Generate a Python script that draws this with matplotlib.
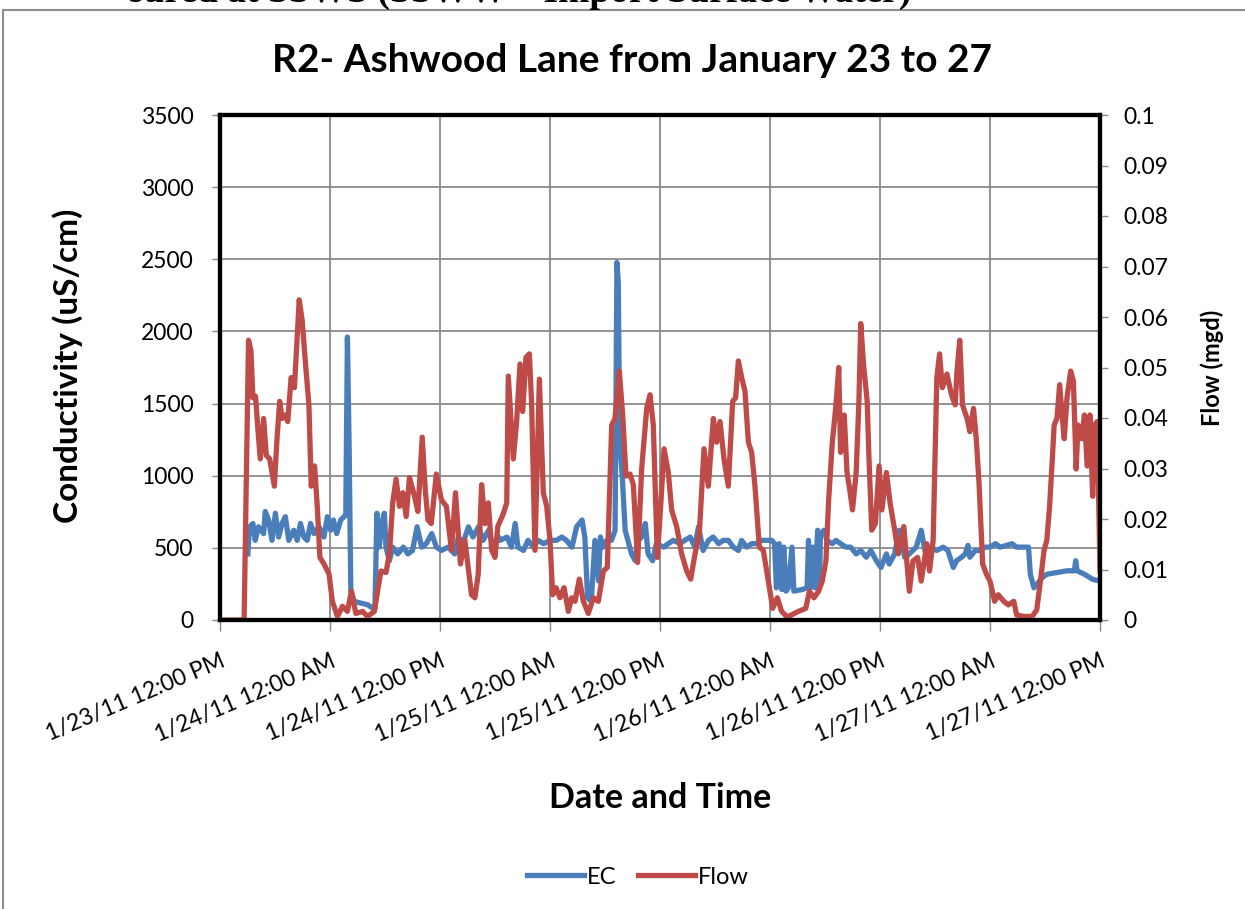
import matplotlib.pyplot as plt
from matplotlib.patches import Rectangle

# hours since 1/23/11 12:00 PM
tick_hours = [0, 12, 24, 36, 48, 60, 72, 84, 96]
tick_labels = ['1/23/11 12:00 PM', '1/24/11 12:00 AM', '1/24/11 12:00 PM',
               '1/25/11 12:00 AM', '1/25/11 12:00 PM', '1/26/11 12:00 AM',
               '1/26/11 12:00 PM', '1/27/11 12:00 AM', '1/27/11 12:00 PM']

ec_t = [3.04, 3.22, 3.59, 3.84, 4.2, 4.76, 4.94, 5.3, 5.67, 6.04, 6.4, 6.77, 7.13, 7.5,
        8.05, 8.42, 8.78, 9.15, 9.51, 9.88, 10.25, 10.79, 11.34, 11.71, 12.07, 12.37,
        12.73, 13.17, 13.72, 13.9, 14.09, 14.27, 14.64, 15.37, 16.1, 16.65, 16.9, 17.12,
        17.38, 17.64, 17.93, 18.11, 18.48, 18.84, 19.39, 20.0, 20.5, 21.0, 21.5, 22.0,
        22.5, 23.1, 23.6, 24.15, 24.9, 25.6, 26.0, 26.5, 27.1, 27.6, 28.2, 28.7, 29.3,
        29.8, 30.4, 30.55, 31.3, 31.8, 32.2, 32.5, 33.1, 33.6, 34.2, 34.7, 35.3, 36.0,
        36.7, 37.3, 37.8, 38.4, 38.9, 39.5, 39.8, 40.1, 40.5, 40.9, 41.3, 41.5, 41.8,
        42.2, 42.7, 43.1, 43.3, 43.45, 43.6, 43.9, 44.2, 44.5, 44.9, 45.3, 45.6, 46.0,
        46.4, 46.7, 47.2, 47.6, 48.4, 48.9, 49.45, 50.2, 50.7, 51.3, 51.8, 52.2, 52.7,
        53.3, 53.8, 54.4, 54.9, 55.45, 56.0, 56.55, 56.9, 57.45, 58.0, 58.5, 59.1, 59.6,
        60.2, 60.5, 60.7, 61.0, 61.3, 61.5, 61.75, 62.0, 62.4, 62.6, 63.5, 64.05, 64.2,
        64.4, 64.7, 64.9, 65.2, 65.4, 65.5, 65.9, 66.2, 66.8, 67.2, 67.7, 68.3, 68.8,
        69.4, 69.9, 70.5, 71.0, 71.6, 72.1, 72.7, 73.0, 73.6, 74.1, 74.7, 75.2, 75.95,
        76.5, 76.9, 77.4, 78.2, 78.9, 79.4, 80.0, 80.35, 80.9, 81.3, 81.6, 81.8, 82.4,
        82.9, 83.5, 84.0, 84.6, 85.1, 85.8, 86.4, 86.9, 87.7, 88.2, 88.4, 88.8, 89.1,
        89.7, 90.2, 91.3, 92.4, 93.2, 93.35, 93.5, 94.3, 95.2, 96.0]
ec_v = [458, 646, 669, 552, 646, 599, 752, 693, 552, 740, 575, 669, 716, 552,
        622, 552, 669, 575, 552, 669, 599, 646, 575, 716, 622, 693,
        599, 693, 728, 1961, 1186, 200, 129, 117, 106, 82, 82, 740,
        505, 669, 740, 505, 411, 505, 458, 505, 458, 482, 646, 505,
        529, 599, 505, 482, 505, 458, 575, 529, 646, 575, 646, 552, 622,
        505, 575, 552, 575, 505, 669, 505, 482, 552, 505, 552, 529, 552,
        552, 575, 552, 505, 646, 693, 575, 153, 129, 552, 270, 575, 505,
        552, 552, 622, 2478, 2337, 1257, 975, 622, 552, 458, 411, 552, 575,
        669, 458, 411, 529, 505, 529, 552, 529, 552, 575, 505, 646, 482,
        552, 575, 529, 552, 552, 505, 482, 552, 505, 529, 529, 552, 552,
        552, 529, 223, 529, 211, 505, 200, 223, 505, 200, 211, 223, 552,
        223, 505, 223, 622, 223, 599, 622, 552, 529, 552, 529, 505, 505,
        458, 482, 435, 482, 411, 364, 458, 388, 458, 622, 435, 458, 505,
        622, 482, 505, 482, 505, 482, 364, 411, 435, 458, 517, 435, 482,
        482, 505, 505, 529, 505, 517, 529, 505, 505, 505, 317, 223, 247,
        294, 317, 329, 341, 341, 411, 341, 317, 282, 270]

flow_t = [0.0, 2.63, 3.11, 3.37, 3.59, 3.88, 4.1, 4.39, 4.76, 5.05, 5.42, 5.93, 6.22,
          6.51, 6.77, 7.13, 7.39, 7.76, 8.12, 8.42, 8.64, 8.96, 9.33, 9.7, 9.95, 10.32,
          10.61, 10.9, 11.34, 11.89, 12.26, 12.81, 13.36, 13.9, 14.34, 14.82, 15.55, 16.1,
          16.83, 17.2, 17.56, 18.11, 18.48, 18.84, 19.21, 19.58, 19.94, 20.31, 20.67,
          21.22, 21.59, 22.06, 22.39, 22.69, 23.05, 23.6, 24.15, 24.7, 25.25, 25.69,
          26.23, 26.71, 27.44, 27.81, 28.17, 28.54, 28.91, 29.27, 29.64, 30.0, 30.3,
          30.92, 31.28, 31.45, 32.0, 32.36, 32.73, 33.02, 33.38, 33.75, 34.0, 34.36,
          34.84, 35.27, 35.64, 36.0, 36.29, 36.65, 37.09, 37.53, 38.0, 38.36, 38.73,
          39.2, 39.64, 40.18, 40.73, 41.27, 41.82, 42.25, 42.73, 43.09, 43.56, 43.93,
          44.29, 44.73, 45.09, 45.56, 46.0, 46.55, 46.91, 47.27, 47.71, 48.07, 48.44,
          48.91, 49.27, 49.82, 50.36, 50.91, 51.35, 51.82, 52.29, 52.8, 53.27, 53.82,
          54.18, 54.55, 54.98, 55.45, 55.93, 56.25, 56.55, 56.91, 57.27, 57.64, 58.0,
          58.36, 58.84, 59.27, 59.82, 60.29, 60.8, 61.27, 61.82, 62.0, 63.1, 63.9, 64.3,
          64.8, 65.3, 65.7, 66.1, 66.4, 66.8, 67.2, 67.5, 67.7, 68.1, 68.4, 68.7, 69.0,
          69.4, 69.7, 69.9, 70.2, 70.6, 70.8, 71.1, 71.5, 71.9, 72.2, 72.7, 73.1, 73.6,
          74.0, 74.6, 75.2, 75.6, 76.1, 76.5, 77.1, 77.4, 77.8, 78.2, 78.5, 78.8, 79.3,
          79.8, 80.2, 80.4, 80.7, 81.0, 81.5, 81.8, 82.2, 82.5, 82.8, 83.2, 83.6, 84.0,
          84.5, 84.9, 85.5, 86.0, 86.6, 86.9, 87.7, 88.6, 89.1, 89.5, 89.9, 90.2, 90.5,
          90.8, 91.0, 91.3, 91.6, 91.9, 92.1, 92.4, 92.8, 93.1, 93.4, 93.6, 94.0, 94.3,
          94.6, 94.9, 95.2, 95.4, 95.7, 96.0]
flow_v = [0.0, 0.0, 0.0554, 0.0534, 0.044, 0.0443, 0.0386, 0.0319, 0.0399, 0.0326, 0.0319,
          0.0265, 0.0359, 0.0433, 0.0399, 0.0406, 0.0393, 0.048, 0.046, 0.056, 0.0634,
          0.0594, 0.0507, 0.0426, 0.0265, 0.0305, 0.0225, 0.0124, 0.0111, 0.0091, 0.0037,
          0.0007, 0.0027, 0.0017, 0.0057, 0.0013, 0.0017, 0.0007, 0.0017, 0.0057, 0.0097,
          0.0094, 0.0131, 0.0232, 0.0279, 0.0225, 0.0252, 0.0205, 0.0282, 0.0245, 0.0215,
          0.0362, 0.0258, 0.0198, 0.0191, 0.0289, 0.0238, 0.0225, 0.0138, 0.0252, 0.0111,
          0.0158, 0.005, 0.0044, 0.0091, 0.0268, 0.0191, 0.0232, 0.0138, 0.0124, 0.0185,
          0.0211, 0.0232, 0.0483, 0.0319, 0.0393, 0.0507, 0.0413, 0.052, 0.0527, 0.0426,
          0.0138, 0.0477, 0.0252, 0.0225, 0.0158, 0.005, 0.0064, 0.0044, 0.0064, 0.0017,
          0.0044, 0.0037, 0.0081, 0.0037, 0.0013, 0.0044, 0.0037, 0.0097, 0.0104, 0.0386,
          0.0399, 0.0493, 0.0406, 0.0285, 0.0289, 0.0268, 0.0114, 0.0299, 0.0419, 0.0446,
          0.0386, 0.0124, 0.0225, 0.0339, 0.0292, 0.0218, 0.0185, 0.0131, 0.0097, 0.0081,
          0.0131, 0.0171, 0.0339, 0.0265, 0.0399, 0.0352, 0.0393, 0.0319, 0.0265, 0.0433,
          0.044, 0.0513, 0.048, 0.0453, 0.0352, 0.0332, 0.0265, 0.0144, 0.0138, 0.0077,
          0.0023, 0.0044, 0.0017, 0.0007, 0.0007, 0.0017, 0.0023, 0.0057, 0.0044, 0.0057,
          0.0077, 0.0117, 0.0238, 0.0352, 0.0426, 0.05, 0.0332, 0.0406, 0.0292, 0.0258,
          0.0218, 0.0292, 0.0433, 0.0587, 0.0507, 0.0433, 0.0319, 0.0178, 0.0191, 0.0305,
          0.0218, 0.0292, 0.0232, 0.0178, 0.0131, 0.0185, 0.0057, 0.0117, 0.0124, 0.0077,
          0.0151, 0.0097, 0.0158, 0.048, 0.0527, 0.046, 0.0487, 0.0446, 0.0426, 0.0493,
          0.0554, 0.0426, 0.0399, 0.0373, 0.0419, 0.0359, 0.0272, 0.0111, 0.0091, 0.0077,
          0.0037, 0.005, 0.0037, 0.003, 0.0037, 0.001, 0.0007, 0.0007, 0.002, 0.0077,
          0.0138, 0.0158, 0.0225, 0.0319, 0.0386, 0.0399, 0.0466, 0.0399, 0.0359, 0.044,
          0.0493, 0.0473, 0.0299, 0.0386, 0.0359, 0.0406, 0.0305, 0.0406, 0.0245, 0.0386,
          0.0393, 0.0097]

ec_ticks = [0, 500, 1000, 1500, 2000, 2500, 3000, 3500]
flow_ticks = [0, 0.01, 0.02, 0.03, 0.04, 0.05, 0.06, 0.07, 0.08, 0.09, 0.1]
flow_tick_labels = ['0', '0.01', '0.02', '0.03', '0.04', '0.05', '0.06', '0.07', '0.08', '0.09', '0.1']

plt.rcParams['font.family'] = ['Lato', 'DejaVu Sans']

W, H = 1245, 909
fig = plt.figure(figsize=(W / 100, H / 100), dpi=100)
ax = fig.add_axes([220 / W, 1 - 620 / H, 880 / W, 505 / H])
ax2 = ax.twinx()

ec_color = '#4A7EBB'
flow_color = '#BE4B48'

l1, = ax.plot(ec_t, ec_v, color=ec_color, lw=3.8, solid_joinstyle='round', label='EC')
l2, = ax2.plot(flow_t, flow_v, color=flow_color, lw=3.8, solid_joinstyle='round', label='Flow')

ax.set_xlim(0, 96)
ax.set_ylim(0, 3500)
ax2.set_ylim(0, 0.1)
ax.set_xticks(tick_hours)
ax.set_xticklabels(tick_labels, rotation=23, ha='right', va='top', rotation_mode='anchor',
                   fontsize=16.5)
ax.set_yticks(ec_ticks)
ax.set_yticklabels([str(v) for v in ec_ticks], fontsize=16.5)
ax2.set_yticks(flow_ticks)
ax2.set_yticklabels(flow_tick_labels, fontsize=16.5)

ax.grid(True, color='#8a8a8a', lw=1.3)
ax.set_axisbelow(True)
for a in (ax, ax2):
    for s in a.spines.values():
        s.set_linewidth(3)
        s.set_color('black')
ax.tick_params(axis='x', length=8, width=1, color='#8a8a8a', pad=14)
ax.tick_params(axis='y', length=6, width=1, color='#8a8a8a', pad=13)
ax2.tick_params(axis='y', length=6, width=1, color='#8a8a8a', pad=11)

fig.text(68 / W, 1 - 366 / H, 'Conductivity (uS/cm)', rotation=90, ha='center', va='center',
         fontsize=24, fontweight='bold')
fig.text(1212 / W, 1 - 368 / H, 'Flow (mgd)', rotation=90, ha='center', va='center',
         fontsize=17, fontweight='bold')
fig.text(660 / W, 1 - 798 / H, 'Date and Time', ha='center', va='center',
         fontsize=24.5, fontweight='bold')
fig.text(632 / W, 1 - 60 / H, 'R2- Ashwood Lane from January 23 to 27', ha='center', va='center',
         fontsize=28, fontweight='bold')

fig.legend(handles=[l1, l2], loc='center', bbox_to_anchor=(638 / W, 1 - 877 / H), ncol=2,
           frameon=False, fontsize=17, handlelength=2.4, handletextpad=0.15, columnspacing=0.9)

fig.add_artist(Rectangle((3 / W, -0.05), 1.1, 1.05 - 10 / H, transform=fig.transFigure,
                         fill=False, edgecolor='#8c8c8c', lw=1.5))
# heading of the page above the chart, cut off by the crop
fig.text(520 / W, 1 - 2 / H, 'sured at SSWS (SSWW \u2013 Import Surface Water)', ha='center',
         va='baseline', family='Liberation Serif', fontweight='bold', fontsize=27)

fig.savefig('out.png', dpi=100)
